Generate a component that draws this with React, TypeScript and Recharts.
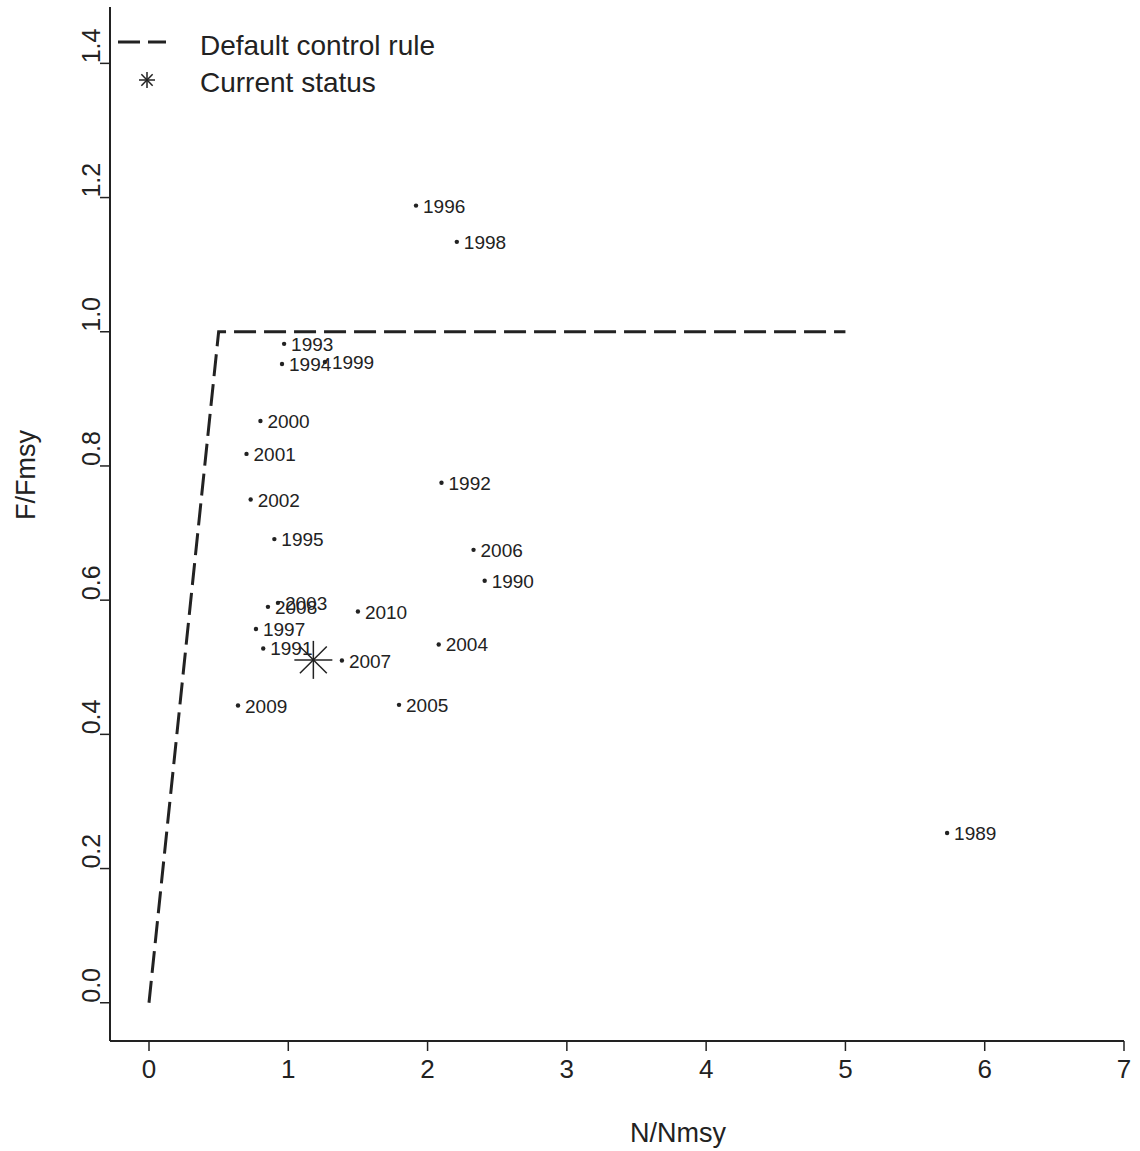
import { ScatterChart, Scatter, XAxis, YAxis, Legend } from "recharts";

const years = [
  1989, 1990, 1991, 1992, 1993, 1994, 1995, 1996, 1997, 1998, 1999,
  2000, 2001, 2002, 2003, 2004, 2005, 2006, 2007, 2008, 2009, 2010,
];
const nRatio = [
  5.73, 2.41, 0.82, 2.1, 0.97, 0.955, 0.9, 1.917, 0.768, 2.21, 1.263,
  0.8, 0.7, 0.73, 0.926, 2.08, 1.795, 2.33, 1.385, 0.854, 0.639, 1.5,
];
const fRatio = [
  0.253, 0.629, 0.528, 0.775, 0.982, 0.952, 0.691, 1.188, 0.557, 1.134, 0.955,
  0.867, 0.818, 0.75, 0.596, 0.534, 0.444, 0.675, 0.51, 0.59, 0.443, 0.583,
];

// default control rule
const ruleN = [0, 0.5, 5];
const ruleF = [0, 1, 1];

const currentN = 1.18;
const currentF = 0.511;

const xTicks = [0, 1, 2, 3, 4, 5, 6, 7];
const yTicks = [0, 0.2, 0.4, 0.6, 0.8, 1.0, 1.2, 1.4];

const FONT = "'Liberation Sans', Arial, Helvetica, sans-serif";
const INK = "#222";

const points = years.map((year, i) => ({ year, x: nRatio[i], y: fRatio[i] }));
const rule = ruleN.map((x, i) => ({ x, y: ruleF[i] }));
const current = [{ x: currentN, y: currentF }];

function YearDot(props: any) {
  const { cx, cy, payload } = props;
  return (
    <g>
      <circle cx={cx} cy={cy} r={2.2} fill={INK} />
      <text x={cx + 7} y={cy + 7} fontSize={19} fontFamily={FONT} fill={INK}>
        {payload.year}
      </text>
    </g>
  );
}

function Asterisk({ cx, cy, r }: { cx: number; cy: number; r: number }) {
  const d = r * 0.7071;
  return (
    <g stroke={INK} strokeWidth={1.5}>
      <line x1={cx - r} y1={cy} x2={cx + r} y2={cy} />
      <line x1={cx} y1={cy - r} x2={cx} y2={cy + r} />
      <line x1={cx - d} y1={cy - d} x2={cx + d} y2={cy + d} />
      <line x1={cx - d} y1={cy + d} x2={cx + d} y2={cy - d} />
    </g>
  );
}

function YTick(props: any) {
  const { y, payload } = props;
  return (
    <text
      transform={`translate(100,${y}) rotate(-90)`}
      textAnchor="start"
      fontSize={25}
      fontFamily={FONT}
      fill={INK}
    >
      {payload.value.toFixed(1)}
    </text>
  );
}

function XTick(props: any) {
  const { x, payload } = props;
  return (
    <text x={x} y={1078} textAnchor="middle" fontSize={26} fontFamily={FONT} fill={INK}>
      {payload.value}
    </text>
  );
}

function LegendBox() {
  return (
    <svg width={450} height={110}>
      <line x1={118} y1={42} x2={166} y2={42} stroke={INK} strokeWidth={3} strokeDasharray="22 8" />
      <text x={200} y={55} fontSize={28} fontFamily={FONT} fill={INK}>
        Default control rule
      </text>
      <Asterisk cx={147} cy={80} r={8} />
      <text x={200} y={92} fontSize={28} fontFamily={FONT} fill={INK}>
        Current status
      </text>
    </svg>
  );
}

export default function App() {
  return (
    <div style={{ position: "absolute", left: 0, top: 0, background: "#fff" }}>
      <ScatterChart width={1140} height={1151} margin={{ top: 7, right: 16, bottom: 0, left: 0 }}>
        <XAxis
          type="number"
          dataKey="x"
          domain={[-0.28, 7]}
          ticks={xTicks}
          allowDataOverflow
          height={110}
          tickSize={10}
          axisLine={{ stroke: INK, strokeWidth: 2 }}
          tickLine={{ stroke: INK, strokeWidth: 1.5 }}
          tick={<XTick />}
          label={{
            content: () => (
              <text x={678} y={1142} textAnchor="middle" fontSize={27} fontFamily={FONT} fill={INK}>
                N/Nmsy
              </text>
            ),
          }}
        />
        <YAxis
          type="number"
          dataKey="y"
          domain={[-0.057, 1.484]}
          ticks={yTicks}
          allowDataOverflow
          width={110}
          tickSize={10}
          axisLine={{ stroke: INK, strokeWidth: 2 }}
          tickLine={{ stroke: INK, strokeWidth: 1.5 }}
          tick={<YTick />}
          label={{
            content: () => (
              <text
                transform="translate(35,475) rotate(-90)"
                textAnchor="middle"
                fontSize={27}
                fontFamily={FONT}
                fill={INK}
              >
                F/Fmsy
              </text>
            ),
          }}
        />
        <Legend
          layout="horizontal"
          align="center"
          verticalAlign="middle"
          wrapperStyle={{ left: 0, top: 0, width: 450, height: 110 }}
          content={() => <LegendBox />}
        />
        <Scatter
          data={rule}
          line={{ stroke: INK, strokeWidth: 3, strokeDasharray: "22 8" }}
          shape={() => <g />}
          isAnimationActive={false}
          legendType="none"
        />
        <Scatter data={points} shape={<YearDot />} isAnimationActive={false} legendType="none" />
        <Scatter
          data={current}
          shape={(p: any) => <Asterisk cx={p.cx} cy={p.cy} r={19} />}
          isAnimationActive={false}
          legendType="none"
        />
      </ScatterChart>
    </div>
  );
}
